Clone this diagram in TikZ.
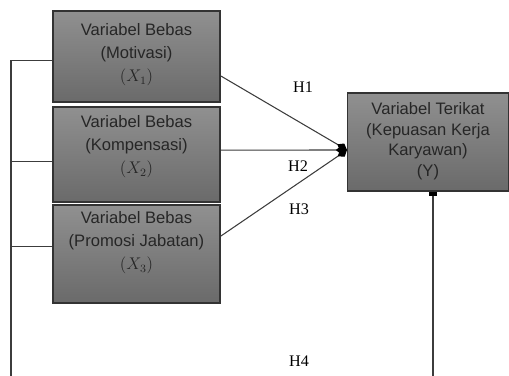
\documentclass[tikz,border=0pt]{standalone}
\usepackage{fontspec}
\setmainfont{Liberation Serif}
\setsansfont{Liberation Sans}
\usetikzlibrary{arrows.meta,positioning}
\definecolor{boxtop}{HTML}{909090}
\definecolor{boxbot}{HTML}{6A6A6A}
\definecolor{boxline}{HTML}{333333}
\definecolor{linkgray}{HTML}{3C3C3C}
\definecolor{txtgray}{HTML}{262626}
\tikzset{
  varbox/.style={draw=boxline,line width=1.1pt,top color=boxtop,bottom color=boxbot,
    minimum width=4.175cm,inner sep=0pt},
  vartext/.style={anchor=north,align=center,inner sep=0pt,text=txtgray,
    font=\sffamily\fontsize{11.8}{16.6}\selectfont},
  link/.style={draw=linkgray,line width=0.75pt},
  hyp/.style={font=\fontsize{11.5}{13}\selectfont}
}
\begin{document}
\begin{tikzpicture}[x=0.025cm,y=-0.025cm]
\useasboundingbox (0,0) rectangle (509,376);
% kotak variabel bebas
\node[varbox,minimum height=2.275cm] (x1) at (136.5,56.5) {};
\node[varbox,minimum height=2.375cm] (x2) at (136.5,154.5) {};
\node[varbox,minimum height=2.45cm] (x3) at (136.5,254) {};
\node[vartext] (t1) at (136.5,23) {Variabel Bebas\\(Motivasi)\\$(X_1)$};
\node[vartext] (t2) at (136.5,115) {Variabel Bebas\\(Kompensasi)\\$(X_2)$};
\node[vartext] (t3) at (136.5,211) {Variabel Bebas\\(Promosi Jabatan)\\$(X_3)$};
% kotak variabel terikat
\node[varbox,minimum width=4.025cm,minimum height=2.45cm] (y) at (428,142) {};
\node[vartext,font=\sffamily\fontsize{11.8}{14.8}\selectfont] (ty) at (428,102)
  {Variabel Terikat\\(Kepuasan Kerja\\Karyawan)\\(Y)};
% garis hipotesis
\coordinate (hub) at (347,150);
\draw[link,-{Diamond[length=8pt,width=6pt,color=black]}] (x1.-13.8) -- (hub);
\draw[link,-{Diamond[length=8pt,width=6pt,color=black]}] (x2.3.8) -- (hub);
\draw[link,-{Diamond[length=8pt,width=6pt,color=black]}] (x3.12.8) -- (hub);
\coordinate (lb) at (11,376);
\coordinate (rb) at (433,376);
\draw[link] (lb) |- (x1.183.1);
\draw[link] (lb |- x2.185.8) -- (x2.185.8);
\draw[link] (lb |- x3.175.9) -- (x3.175.9);
\draw[link,-{Square[length=3pt,width=5pt,color=black]}] (rb) -- (rb |- y.south);
% label
\node[hyp] (h1) at (303,87) {H1};
\node[hyp] (h2) at (298,166) {H2};
\node[hyp] (h3) at (299,209) {H3};
\node[hyp] (h4) at (299,361) {H4};
\end{tikzpicture}
\end{document}
